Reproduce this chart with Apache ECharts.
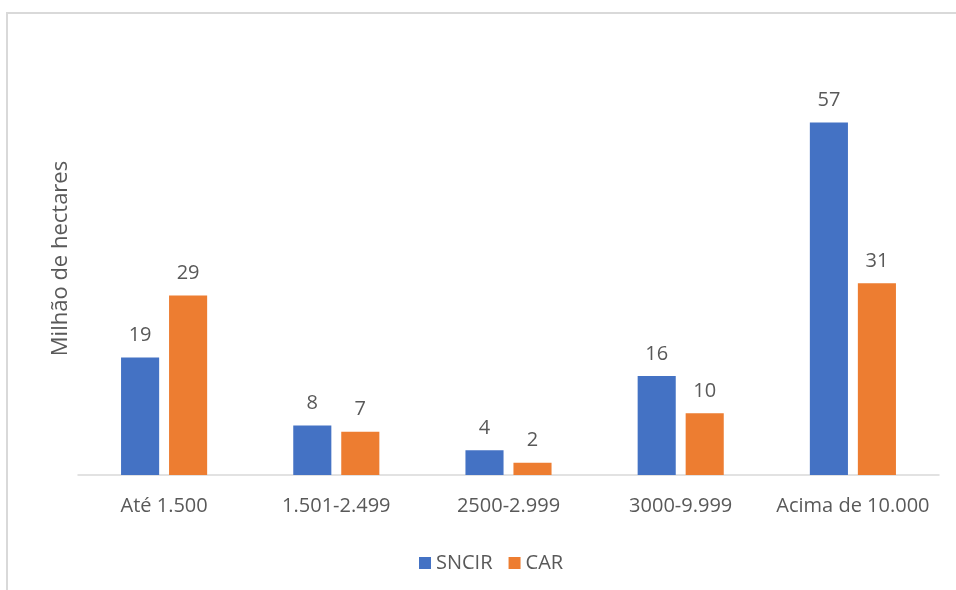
<!DOCTYPE html>
<html>
<head>
<meta charset="utf-8">
<script src="https://cdn.jsdelivr.net/npm/echarts@6/dist/echarts.min.js"></script>
<style>
  html, body { margin: 0; padding: 0; background: #fff; }
  #chart { width: 956px; height: 590px; }
</style>
</head>
<body>
<div id="chart"></div>
<script>
// faixas de área
var categories = ['Até 1.500', '1.501-2.499', '2500-2.999', '3000-9.999', 'Acima de 10.000'];
var sncir = [19, 8, 4, 16, 57];
var car = [29, 7, 2, 10, 31];

var txt = '#595959';
var font = '"Open Sans", "Noto Sans", sans-serif';

var chart = echarts.init(document.getElementById('chart'));

var option = {
    animation: false,
    textStyle: { fontFamily: font },
    graphic: [{
        type: 'rect',
        shape: { x: 7, y: 13, width: 1000, height: 700 },
        style: { fill: 'none', stroke: '#d9d9d9', lineWidth: 2 },
        silent: true
    }],
    grid: { left: 78, right: 17, top: 42, bottom: 115 },
    legend: {
        left: 414,
        top: 548,
        itemWidth: 12,
        itemHeight: 12,
        itemGap: 16,
        icon: 'rect',
        textStyle: { color: txt, fontSize: 20, fontFamily: font },
        data: ['SNCIR', 'CAR']
    },
    xAxis: {
        type: 'category',
        data: categories,
        axisLine: { lineStyle: { color: '#d9d9d9', width: 1.5 } },
        axisTick: { show: false },
        axisLabel: { color: txt, fontSize: 20, margin: 21, interval: 0, fontFamily: font }
    },
    yAxis: {
        type: 'value',
        min: 0,
        max: 70,
        name: 'Milhão de hectares',
        nameLocation: 'middle',
        nameGap: 6,
        nameTextStyle: { color: txt, fontSize: 22, fontFamily: font },
        axisLine: { show: false },
        axisTick: { show: false },
        axisLabel: { show: false },
        splitLine: { show: false }
    },
    series: [{
        name: 'SNCIR',
        type: 'bar',
        data: sncir,
        itemStyle: { color: '#4472C4' },
        barGap: '26%',
        barCategoryGap: '50%',
        label: { show: true, position: 'top', distance: 12, color: txt, fontSize: 20, fontFamily: font }
    }, {
        name: 'CAR',
        type: 'bar',
        data: car,
        itemStyle: { color: '#ED7D31' },
        label: { show: true, position: 'top', distance: 12, color: txt, fontSize: 20, fontFamily: font }
    }]
};

chart.setOption(option);
window.onresize = function () { chart.resize(); };
</script>
</body>
</html>
